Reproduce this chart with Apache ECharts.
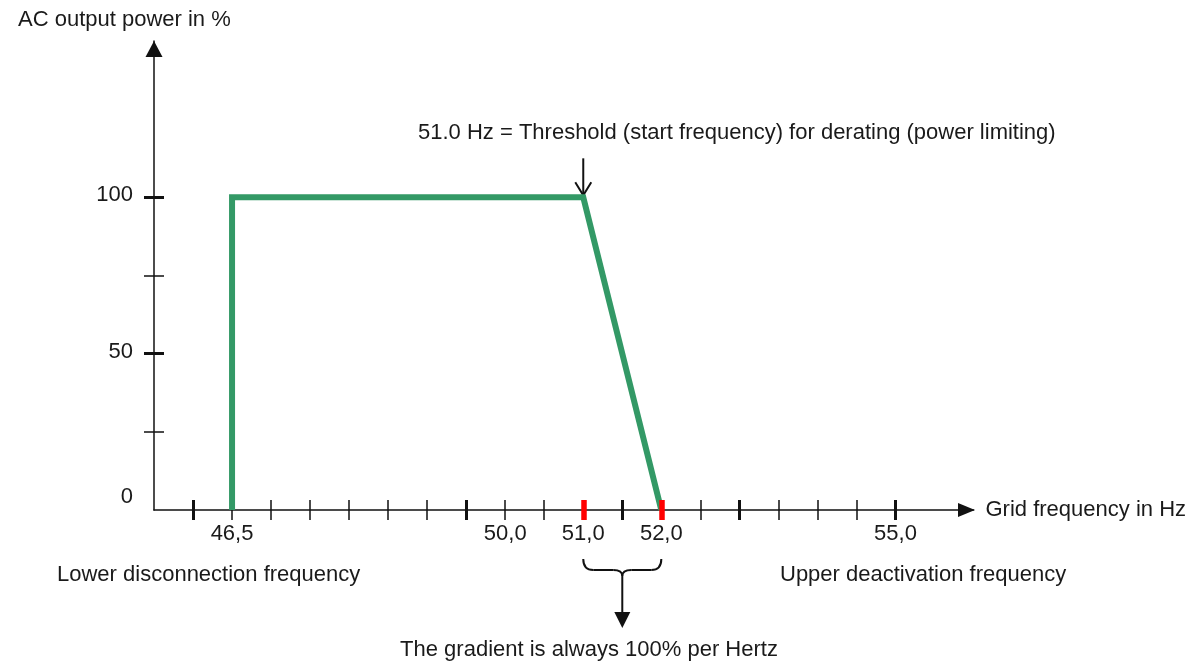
<!DOCTYPE html>
<html>
<head>
<meta charset="utf-8">
<title>Frequency derating</title>
<script src="https://cdn.jsdelivr.net/npm/echarts@6/dist/echarts.min.js"></script>
<style>
  html, body { margin: 0; padding: 0; background: #fff; }
  #main { width: 1191px; height: 664px; }
</style>
</head>
<body>
<div id="main"></div>
<script>
// derating curve: grid frequency (Hz) -> AC output power (%)
const curveFreq = [46.5, 46.5, 51.0, 52.0]
const curvePower = [0, 100, 100, 0]

// x axis ticks (Hz)
const xLabelTicks = [46.5, 50.0, 51.0, 52.0, 55.0]
const xThinTicks = [46.5, 47.0, 47.5, 48.0, 48.5, 49.0, 50.0, 50.5, 52.5, 53.5, 54.0, 54.5]
const xThickTicks = [46.0, 49.5, 51.5, 53.0, 55.0]
const xRedTicks = [51.0, 52.0]

// y axis ticks (%)
const yLabelTicks = [0, 50, 100]
const yThinTicks = [25, 75]
const yThickTicks = [50, 100]

const FONT = '"Liberation Sans", Arial, sans-serif'
const TXT = '#1a1a1a'
const X_MIN = 45.5, X_MAX = 56
const Y_MIN = 0, Y_MAX = 150

let chart = echarts.init(document.getElementById('main'), null, { renderer: 'canvas' })

// axis that only draws a set of ticks crossing the axis line (+-10px)
function tickAxis (dim, values, width, color, z) {
  return {
    type: 'value',
    min: dim === 'x' ? X_MIN : Y_MIN,
    max: dim === 'x' ? X_MAX : Y_MAX,
    position: dim === 'x' ? 'bottom' : 'left',
    offset: -10,
    z: z,
    axisLine: { show: false, onZero: false },
    axisLabel: { show: false },
    splitLine: { show: false },
    axisTick: {
      show: true,
      inside: false,
      length: 20,
      customValues: values,
      lineStyle: { color: color, width: width }
    }
  }
}

let option = {
  animation: false,
  backgroundColor: '#fff',
  title: {
    text: 'AC output power in %',
    left: 18,
    top: 9,
    padding: 0,
    textStyle: { fontSize: 22, fontWeight: 'normal', color: TXT, fontFamily: FONT }
  },
  grid: {
    left: 154,
    top: 41,
    width: 819.5,
    height: 469,
    containLabel: false,
    outerBoundsMode: 'none'
  },
  xAxis: [
    {
      type: 'value',
      min: X_MIN,
      max: X_MAX,
      position: 'bottom',
      axisLine: {
        onZero: false,
        symbol: ['none', 'triangle'],
        symbolSize: [14, 17],
        symbolOffset: [0, -7],
        lineStyle: { color: '#111', width: 1.5 }
      },
      axisTick: { show: false },
      splitLine: { show: false },
      axisLabel: {
        customValues: xLabelTicks,
        formatter: v => v.toFixed(1).replace('.', ','),
        margin: 13,
        fontSize: 22,
        color: TXT,
        fontFamily: FONT
      },
      name: 'Grid frequency in Hz',
      nameLocation: 'end',
      nameGap: 12,
      nameTextStyle: { fontSize: 22, color: TXT, fontFamily: FONT, verticalAlign: 'middle' }
    },
    tickAxis('x', xThinTicks, 1.5, '#111', 0),
    tickAxis('x', xThickTicks, 3, '#111', 0),
    tickAxis('x', xRedTicks, 5.5, '#ff0000', 5)
  ],
  yAxis: [
    {
      type: 'value',
      min: Y_MIN,
      max: Y_MAX,
      position: 'left',
      axisLine: {
        onZero: false,
        symbol: ['none', 'triangle'],
        symbolSize: [17, 16],
        symbolOffset: [0, -8],
        lineStyle: { color: '#111', width: 1.5 }
      },
      axisTick: { show: false },
      splitLine: { show: false },
      axisLabel: {
        customValues: yLabelTicks,
        margin: 21,
        formatter: v => v === 0 ? '{z|0}' : '{n|' + v + '}',
        rich: {
          z: { fontSize: 22, color: TXT, fontFamily: FONT, padding: [0, 0, 26, 0] },
          n: { fontSize: 22, color: TXT, fontFamily: FONT, padding: [0, 0, 4, 0] }
        }
      }
    },
    tickAxis('y', yThinTicks, 1.5, '#111', 0),
    tickAxis('y', yThickTicks, 3, '#111', 0)
  ],
  series: [
    {
      type: 'line',
      xAxisIndex: 0,
      yAxisIndex: 0,
      data: curveFreq.map((f, i) => [f, curvePower[i]]),
      symbol: 'none',
      z: 2,
      lineStyle: { color: '#339966', width: 6, join: 'miter', cap: 'butt' }
    }
  ]
}

chart.setOption(option)

// annotations anchored to the curve
let toPx = p => chart.convertToPixel({ seriesIndex: 0 }, p)
let thr = toPx([51.0, 100])
let b0 = toPx([51.0, 0])
let b1 = toPx([52.0, 0])
let xc = (b0[0] + b1[0]) / 2
let yTop = b0[1] + 49
let yMid = b0[1] + 60
let yCusp = b0[1] + 66
let stroke = { stroke: '#111', lineWidth: 2, fill: null }

function text (str, x, y, align) {
  return {
    type: 'text',
    x: x,
    y: y,
    style: {
      text: str,
      fill: TXT,
      font: '22px ' + FONT,
      align: align,
      verticalAlign: 'middle'
    }
  }
}

chart.setOption({
  graphic: [
    text('51.0 Hz = Threshold (start frequency) for derating (power limiting)', 418, 133, 'left'),
    text('Lower disconnection frequency', 57, 575, 'left'),
    text('Upper deactivation frequency', 780, 575, 'left'),
    text('The gradient is always 100% per Hertz', 589, 650, 'center'),
    // threshold arrow
    { type: 'line', shape: { x1: thr[0], y1: thr[1] - 39, x2: thr[0], y2: thr[1] - 2 }, style: stroke },
    { type: 'polyline', shape: { points: [[thr[0] - 8, thr[1] - 15], [thr[0], thr[1] - 2], [thr[0] + 8, thr[1] - 15]] }, style: stroke },
    // brace between 51 and 52 Hz
    { type: 'bezierCurve', shape: { x1: b0[0], y1: yTop, cpx1: b0[0], cpy1: yMid, x2: b0[0] + 10, y2: yMid }, style: stroke },
    { type: 'line', shape: { x1: b0[0] + 10, y1: yMid, x2: xc - 9, y2: yMid }, style: stroke },
    { type: 'bezierCurve', shape: { x1: xc - 9, y1: yMid, cpx1: xc, cpy1: yMid, x2: xc, y2: yCusp }, style: stroke },
    { type: 'bezierCurve', shape: { x1: b1[0], y1: yTop, cpx1: b1[0], cpy1: yMid, x2: b1[0] - 10, y2: yMid }, style: stroke },
    { type: 'line', shape: { x1: b1[0] - 10, y1: yMid, x2: xc + 9, y2: yMid }, style: stroke },
    { type: 'bezierCurve', shape: { x1: xc + 9, y1: yMid, cpx1: xc, cpy1: yMid, x2: xc, y2: yCusp }, style: stroke },
    // arrow down to the gradient note
    { type: 'line', shape: { x1: xc, y1: yCusp, x2: xc, y2: b0[1] + 103 }, style: stroke },
    { type: 'polygon', shape: { points: [[xc - 8, b0[1] + 102], [xc + 8, b0[1] + 102], [xc, b0[1] + 118]] }, style: { fill: '#111' } }
  ]
})
</script>
</body>
</html>
